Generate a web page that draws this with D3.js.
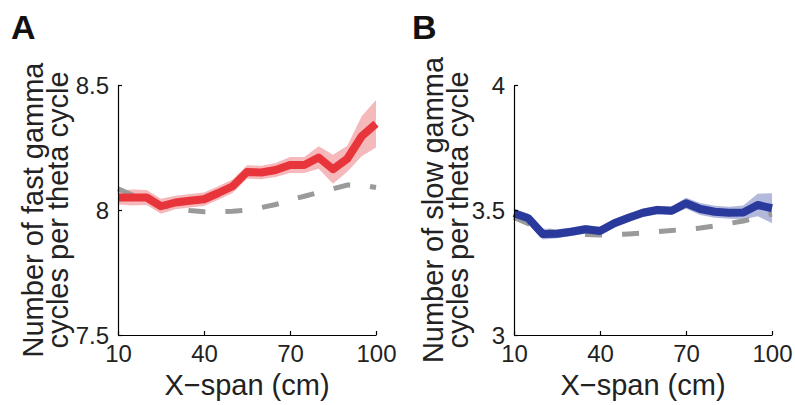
<!DOCTYPE html>
<html>
<head>
<meta charset="utf-8">
<script src="https://cdn.jsdelivr.net/npm/d3@7"></script>
<style>
  html, body { margin: 0; padding: 0; background: #fff; }
  svg { display: block; font-family: "Liberation Sans", Arial, Helvetica, sans-serif; }
</style>
</head>
<body>
<svg id="chart" width="795" height="405"></svg>
<script>
// X-span (cm) sampled every 5 cm
const xSpan = [10, 15, 20, 25, 30, 35, 40, 45, 50, 55, 60, 65, 70, 75, 80, 85, 90, 95, 100];

// Panel A: fast gamma cycles per theta cycle
const fastMean = [8.05, 8.05, 8.05, 8.015, 8.03, 8.037, 8.043, 8.068, 8.095, 8.152, 8.15, 8.16, 8.18, 8.18, 8.21, 8.163, 8.205, 8.295, 8.345];
const fastErr  = [0.028, 0.032, 0.03, 0.03, 0.027, 0.027, 0.027, 0.027, 0.027, 0.027, 0.027, 0.028, 0.032, 0.032, 0.045, 0.058, 0.052, 0.08, 0.095];
const fastShuffle = [8.085, 8.06, 8.04, 8.02, 8.005, 7.998, 7.993, 7.993, 7.995, 8.0, 8.01, 8.022, 8.04, 8.055, 8.07, 8.085, 8.1, 8.1, 8.09];

// Panel B: slow gamma cycles per theta cycle
const slowMean = [3.487, 3.467, 3.404, 3.405, 3.413, 3.423, 3.416, 3.447, 3.469, 3.489, 3.5, 3.497, 3.527, 3.504, 3.493, 3.489, 3.49, 3.52, 3.507];
const slowErr  = [0.018, 0.018, 0.022, 0.018, 0.017, 0.017, 0.017, 0.017, 0.017, 0.017, 0.017, 0.017, 0.022, 0.024, 0.024, 0.024, 0.028, 0.045, 0.06];
const slowShuffle = [3.47, 3.445, 3.42, 3.41, 3.405, 3.402, 3.4, 3.401, 3.404, 3.408, 3.413, 3.418, 3.423, 3.428, 3.436, 3.446, 3.456, 3.47, 3.484];

const xTicks = [10, 40, 70, 100];
const fastTicks = [7.5, 8, 8.5];
const slowTicks = [3, 3.5, 4];

const svg = d3.select("#chart");

function drawPanel(opts) {
  const x = d3.scaleLinear().domain([10, 100]).range([opts.left, opts.left + 258]);
  const y = d3.scaleLinear().domain(opts.domain).range([335, 85]);
  const g = svg.append("g");

  // error band
  const area = d3.area()
    .x((d, i) => x(xSpan[i]))
    .y0((d, i) => y(opts.mean[i] - opts.err[i]))
    .y1((d, i) => y(opts.mean[i] + opts.err[i]));
  g.append("path").datum(opts.mean).attr("d", area)
    .attr("fill", opts.band).attr("stroke", "none");

  const line = d3.line().x((d, i) => x(xSpan[i])).y(d => y(d));

  // shuffled baseline
  g.append("path").datum(opts.shuffle).attr("d", line)
    .attr("fill", "none").attr("stroke", "#9a9a9a")
    .attr("stroke-width", 5).attr("stroke-dasharray", "17,20");

  // mean trace
  g.append("path").datum(opts.mean).attr("d", line)
    .attr("fill", "none").attr("stroke", opts.color)
    .attr("stroke-width", 8).attr("stroke-linejoin", "round");

  // axes
  const xAxis = d3.axisBottom(x).tickValues(xTicks).tickSizeInner(-4).tickSizeOuter(0).tickPadding(10);
  const gx = g.append("g").attr("transform", "translate(0,335)").call(xAxis);
  const yAxis = d3.axisLeft(y).tickValues(opts.ticks).tickSizeInner(-4).tickSizeOuter(0).tickPadding(9)
    .tickFormat(d3.format("~g"));
  const gy = g.append("g").attr("transform", `translate(${opts.left},0)`).call(yAxis);

  [gx, gy].forEach(a => {
    a.select(".domain").attr("stroke", "#000").attr("stroke-width", 1.2);
    a.selectAll(".tick line").attr("stroke", "#000").attr("stroke-width", 1.2);
    a.selectAll(".tick text").attr("fill", "#222").style("font-size", "24px")
      .style("font-family", "'Liberation Sans', Arial, sans-serif");
  });
  gx.selectAll(".tick text").attr("dy", "0.71em");
  gy.selectAll(".tick text").attr("dy", "0.36em");

  // x-axis title
  g.append("text").attr("x", x(55)).attr("y", 395)
    .attr("text-anchor", "middle").attr("fill", "#222")
    .style("font-size", "29px").text("X\u2212span (cm)");

  // y-axis title (two lines)
  const yt = g.append("text")
    .attr("transform", `translate(${opts.labelX},210) rotate(-90)`)
    .attr("text-anchor", "middle").attr("fill", "#222")
    .style("font-size", "29px");
  yt.append("tspan").attr("x", 0).attr("y", 0).text(opts.title[0]);
  yt.append("tspan").attr("x", 0).attr("y", 25).text(opts.title[1]);

  // panel letter
  g.append("text").attr("x", opts.letterX).attr("y", 39)
    .attr("fill", "#111").style("font-size", "34px").style("font-weight", "bold")
    .text(opts.letter);
}

drawPanel({
  left: 118, domain: [7.5, 8.5], ticks: fastTicks,
  mean: fastMean, err: fastErr, shuffle: fastShuffle,
  color: "#e8353b", band: "#f6b9bb",
  title: ["Number of fast gamma", "cycles per theta cycle"],
  labelX: 43, letter: "A", letterX: 11
});

drawPanel({
  left: 514, domain: [3, 4], ticks: slowTicks,
  mean: slowMean, err: slowErr, shuffle: slowShuffle,
  color: "#2a3a9c", band: "#b3b8dd",
  title: ["Number of slow gamma", "cycles per theta cycle"],
  labelX: 443, letter: "B", letterX: 412
});
</script>
</body>
</html>
